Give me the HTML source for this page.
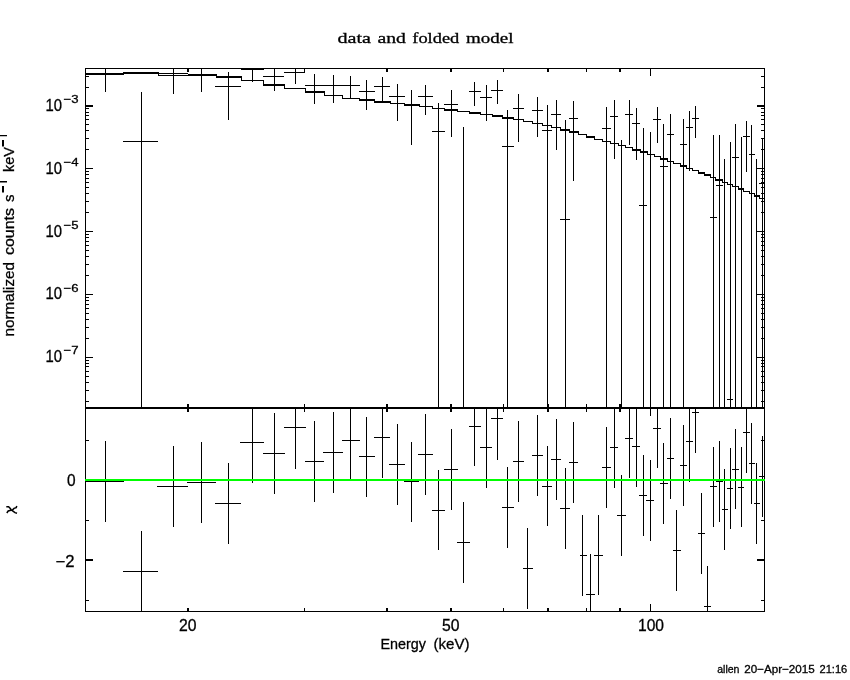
<!DOCTYPE html>
<html><head><meta charset="utf-8"><style>html,body{margin:0;padding:0;background:#fff;}svg{display:block;}text{font-family:"Liberation Sans",sans-serif;fill:#000;stroke:#000;stroke-width:0.3px;}</style></head><body>
<svg width="850" height="680" viewBox="0 0 850 680" shape-rendering="crispEdges">
<rect x="0" y="0" width="850" height="680" fill="#fff"/>
<path fill="#000" d="M85 68h680v1h-680zM85 407h680v2h-680zM85 611h680v1h-680zM85 68h1v544h-1zM764 68h1v544h-1zM86 401h3v1h-3zM761 401h3v1h-3zM86 390h3v1h-3zM761 390h3v1h-3zM86 382h3v1h-3zM761 382h3v1h-3zM86 376h3v1h-3zM761 376h3v1h-3zM86 371h3v1h-3zM761 371h3v1h-3zM86 366h3v1h-3zM761 366h3v1h-3zM86 363h3v1h-3zM761 363h3v1h-3zM86 360h3v1h-3zM761 360h3v1h-3zM86 357h7v1h-7zM757 357h7v1h-7zM86 338h3v1h-3zM761 338h3v1h-3zM86 327h3v1h-3zM761 327h3v1h-3zM86 319h3v1h-3zM761 319h3v1h-3zM86 313h3v1h-3zM761 313h3v1h-3zM86 308h3v1h-3zM761 308h3v1h-3zM86 304h3v1h-3zM761 304h3v1h-3zM86 300h3v1h-3zM761 300h3v1h-3zM86 297h3v1h-3zM761 297h3v1h-3zM86 294h7v1h-7zM757 294h7v1h-7zM86 275h3v1h-3zM761 275h3v1h-3zM86 264h3v1h-3zM761 264h3v1h-3zM86 256h3v1h-3zM761 256h3v1h-3zM86 250h3v1h-3zM761 250h3v1h-3zM86 245h3v1h-3zM761 245h3v1h-3zM86 241h3v1h-3zM761 241h3v1h-3zM86 237h3v1h-3zM761 237h3v1h-3zM86 234h3v1h-3zM761 234h3v1h-3zM86 231h7v1h-7zM757 231h7v1h-7zM86 212h3v1h-3zM761 212h3v1h-3zM86 201h3v1h-3zM761 201h3v1h-3zM86 193h3v1h-3zM761 193h3v1h-3zM86 187h3v1h-3zM761 187h3v1h-3zM86 182h3v1h-3zM761 182h3v1h-3zM86 178h3v1h-3zM761 178h3v1h-3zM86 174h3v1h-3zM761 174h3v1h-3zM86 171h3v1h-3zM761 171h3v1h-3zM86 168h7v1h-7zM757 168h7v1h-7zM86 149h3v1h-3zM761 149h3v1h-3zM86 138h3v1h-3zM761 138h3v1h-3zM86 130h3v1h-3zM761 130h3v1h-3zM86 124h3v1h-3zM761 124h3v1h-3zM86 119h3v1h-3zM761 119h3v1h-3zM86 115h3v1h-3zM761 115h3v1h-3zM86 112h3v1h-3zM761 112h3v1h-3zM86 108h3v1h-3zM761 108h3v1h-3zM86 105h7v2h-7zM757 105h7v2h-7zM86 87h3v1h-3zM761 87h3v1h-3zM86 76h3v1h-3zM761 76h3v1h-3zM86 440h3v1h-3zM761 440h3v1h-3zM86 479h7v2h-7zM757 479h7v2h-7zM86 520h3v1h-3zM761 520h3v1h-3zM86 559h7v2h-7zM757 559h7v2h-7zM86 600h3v1h-3zM761 600h3v1h-3zM187 69h2v3h-2zM187 404h2v3h-2zM187 409h2v3h-2zM187 608h2v3h-2zM304 69h1v3h-1zM304 404h1v3h-1zM304 409h1v3h-1zM304 608h1v3h-1zM386 69h2v3h-2zM386 404h2v3h-2zM386 409h2v3h-2zM386 608h2v3h-2zM450 69h2v3h-2zM450 404h2v3h-2zM450 409h2v3h-2zM450 608h2v3h-2zM503 69h1v3h-1zM503 404h1v3h-1zM503 409h1v3h-1zM503 608h1v3h-1zM547 69h2v3h-2zM547 404h2v3h-2zM547 409h2v3h-2zM547 608h2v3h-2zM586 69h1v3h-1zM586 404h1v3h-1zM586 409h1v3h-1zM586 608h1v3h-1zM619 69h2v3h-2zM619 404h2v3h-2zM619 409h2v3h-2zM619 608h2v3h-2zM650 69h1v7h-1zM650 400h1v7h-1zM650 409h1v7h-1zM650 604h1v7h-1zM85 73h39v2h-39zM124 72h34v2h-34zM123 72h1v3h-1zM158 75h30v1h-30zM158 72h1v4h-1zM188 74h28v2h-28zM188 74h1v2h-1zM216 76h25v2h-25zM216 74h1v4h-1zM241 80h23v1h-23zM241 76h1v5h-1zM264 84h20v2h-20zM263 80h1v6h-1zM284 88h21v1h-21zM284 84h1v5h-1zM305 91h19v2h-19zM305 88h1v5h-1zM324 95h18v1h-18zM324 91h1v5h-1zM342 98h17v1h-17zM342 95h1v4h-1zM359 99h15v2h-15zM359 98h1v3h-1zM374 101h16v2h-16zM374 99h1v4h-1zM390 103h14v1h-14zM390 101h1v3h-1zM404 104h15v2h-15zM404 103h1v3h-1zM419 106h13v1h-13zM419 104h1v3h-1zM432 108h12v1h-12zM432 106h1v3h-1zM444 109h14v2h-14zM444 108h1v3h-1zM458 111h11v1h-11zM457 109h1v3h-1zM469 112h11v2h-11zM469 111h1v3h-1zM480 114h12v1h-12zM480 112h1v3h-1zM492 115h10v2h-10zM492 114h1v3h-1zM502 117h11v2h-11zM502 115h1v4h-1zM513 119h10v1h-10zM513 117h1v3h-1zM523 121h9v1h-9zM523 119h1v3h-1zM532 123h10v1h-10zM532 121h1v3h-1zM542 125h10v1h-10zM542 123h1v3h-1zM552 127h8v1h-8zM551 125h1v3h-1zM560 129h10v2h-10zM560 127h1v4h-1zM570 131h8v2h-8zM569 129h1v4h-1zM578 134h8v1h-8zM578 131h1v4h-1zM586 136h8v2h-8zM586 134h1v4h-1zM594 139h8v1h-8zM594 136h1v4h-1zM602 141h8v1h-8zM602 139h1v3h-1zM610 143h8v1h-8zM610 141h1v3h-1zM618 145h8v1h-8zM618 143h1v3h-1zM626 147h6v1h-6zM625 145h1v3h-1zM632 149h8v2h-8zM632 147h1v4h-1zM640 151h7v2h-7zM640 149h1v4h-1zM647 154h7v1h-7zM647 151h1v4h-1zM654 156h6v1h-6zM654 154h1v3h-1zM660 158h7v2h-7zM660 156h1v4h-1zM667 161h6v1h-6zM667 158h1v4h-1zM673 163h7v1h-7zM673 161h1v3h-1zM680 165h6v2h-6zM680 163h1v4h-1zM686 168h6v1h-6zM686 165h1v4h-1zM692 170h6v1h-6zM692 168h1v3h-1zM698 172h6v2h-6zM698 170h1v4h-1zM704 174h6v2h-6zM704 172h1v4h-1zM710 177h6v1h-6zM710 174h1v4h-1zM716 179h6v2h-6zM715 177h1v4h-1zM722 182h6v1h-6zM722 179h1v4h-1zM728 184h4v1h-4zM727 182h1v3h-1zM732 186h6v1h-6zM732 184h1v3h-1zM738 188h5v2h-5zM738 186h1v4h-1zM743 191h6v1h-6zM743 188h1v4h-1zM749 193h5v1h-5zM749 191h1v3h-1zM754 195h6v2h-6zM754 193h1v4h-1zM760 198h5v1h-5zM759 195h1v4h-1zM105 69h1v23h-1zM85 74h39v1h-39zM141 92h1v315h-1zM123 141h35v1h-35zM173 69h1v25h-1zM158 73h30v1h-30zM201 69h1v23h-1zM188 74h28v1h-28zM228 72h1v48h-1zM215 86h26v1h-26zM252 69h1v13h-1zM241 69h23v1h-23zM274 69h1v22h-1zM263 76h21v1h-21zM295 69h1v15h-1zM284 72h21v1h-21zM314 74h1v30h-1zM305 85h19v1h-19zM333 75h1v28h-1zM324 85h18v1h-18zM350 76h1v23h-1zM342 85h18v1h-18zM366 80h1v30h-1zM359 91h16v1h-16zM382 77h1v25h-1zM374 86h16v1h-16zM397 84h1v37h-1zM389 96h16v1h-16zM411 90h1v55h-1zM404 105h15v1h-15zM425 85h1v30h-1zM418 96h15v1h-15zM438 103h1v304h-1zM432 131h13v1h-13zM451 90h1v47h-1zM444 104h14v1h-14zM463 127h1v280h-1zM474 82h1v24h-1zM469 91h12v1h-12zM486 85h1v36h-1zM480 97h12v1h-12zM497 80h1v24h-1zM491 90h12v1h-12zM507 110h1v297h-1zM502 146h12v1h-12zM518 94h1v48h-1zM513 108h11v1h-11zM537 97h1v40h-1zM532 110h11v1h-11zM547 105h1v302h-1zM542 130h10v1h-10zM556 100h1v50h-1zM551 114h10v1h-10zM565 120h1v287h-1zM560 219h10v1h-10zM573 101h1v80h-1zM569 118h9v1h-9zM606 107h1v300h-1zM602 128h9v1h-9zM614 100h1v59h-1zM610 116h8v1h-8zM621 140h1v267h-1zM629 100h1v45h-1zM625 114h8v1h-8zM636 108h1v52h-1zM632 123h8v1h-8zM643 128h1v279h-1zM639 205h8v1h-8zM650 132h1v275h-1zM657 107h1v36h-1zM653 119h8v1h-8zM663 124h1v283h-1zM660 166h8v1h-8zM670 114h1v293h-1zM667 134h7v1h-7zM683 119h1v288h-1zM680 144h7v1h-7zM689 111h1v60h-1zM686 127h7v1h-7zM695 106h1v32h-1zM692 118h7v1h-7zM713 135h1v272h-1zM710 217h7v1h-7zM719 135h1v272h-1zM716 185h7v1h-7zM724 159h1v248h-1zM730 142h1v265h-1zM727 399h6v1h-6zM735 124h1v283h-1zM732 157h7v1h-7zM741 137h1v270h-1zM746 121h1v51h-1zM743 136h7v1h-7zM751 125h1v282h-1zM749 154h6v1h-6zM756 159h1v248h-1zM762 139h1v268h-1zM759 183h5v1h-5z"/>
<path fill="#000" d="M105 441h1v81h-1zM85 481h39v1h-39zM141 531h1v80h-1zM123 571h35v1h-35zM173 446h1v81h-1zM157 486h31v1h-31zM201 442h1v81h-1zM187 482h29v1h-29zM228 463h1v81h-1zM215 503h26v1h-26zM252 409h1v74h-1zM240 442h24v1h-24zM274 413h1v81h-1zM263 453h22v1h-22zM295 409h1v60h-1zM284 427h22v1h-22zM314 421h1v81h-1zM305 461h19v1h-19zM333 412h1v81h-1zM323 452h20v1h-20zM350 409h1v71h-1zM342 440h18v1h-18zM366 417h1v80h-1zM359 456h16v1h-16zM382 409h1v69h-1zM374 437h16v1h-16zM397 424h1v81h-1zM389 464h16v1h-16zM411 442h1v80h-1zM404 481h15v1h-15zM425 414h1v81h-1zM418 454h15v1h-15zM438 470h1v80h-1zM432 510h13v1h-13zM451 429h1v81h-1zM444 469h14v1h-14zM463 502h1v81h-1zM457 542h13v1h-13zM474 409h1v57h-1zM469 426h12v1h-12zM486 409h1v79h-1zM480 447h12v1h-12zM497 409h1v51h-1zM491 418h12v1h-12zM507 467h1v81h-1zM502 507h12v1h-12zM518 421h1v81h-1zM513 461h11v1h-11zM527 528h1v81h-1zM523 568h10v1h-10zM537 415h1v81h-1zM532 455h11v1h-11zM547 446h1v80h-1zM542 486h10v1h-10zM556 419h1v81h-1zM551 459h10v1h-10zM565 468h1v81h-1zM560 508h10v1h-10zM573 422h1v81h-1zM569 462h9v1h-9zM582 515h1v81h-1zM580 555h7v1h-7zM590 554h1v57h-1zM586 594h9v1h-9zM598 515h1v80h-1zM594 555h9v1h-9zM606 427h1v81h-1zM602 467h9v1h-9zM614 409h1v79h-1zM610 447h8v1h-8zM621 475h1v81h-1zM617 515h9v1h-9zM629 409h1v69h-1zM625 438h8v1h-8zM636 409h1v78h-1zM632 446h8v1h-8zM643 455h1v81h-1zM639 495h8v1h-8zM650 460h1v81h-1zM646 500h8v1h-8zM657 409h1v59h-1zM653 428h8v1h-8zM663 443h1v81h-1zM660 483h8v1h-8zM670 418h1v81h-1zM667 458h7v1h-7zM676 510h1v81h-1zM673 550h8v1h-8zM683 425h1v81h-1zM680 465h7v1h-7zM689 409h1v73h-1zM686 441h7v1h-7zM695 409h1v44h-1zM692 412h7v1h-7zM701 493h1v81h-1zM698 533h7v1h-7zM707 566h1v45h-1zM704 606h7v1h-7zM713 447h1v80h-1zM710 486h7v1h-7zM719 441h1v81h-1zM716 481h7v1h-7zM724 469h1v81h-1zM722 509h6v1h-6zM730 448h1v81h-1zM727 488h6v1h-6zM735 429h1v80h-1zM732 469h7v1h-7zM741 447h1v80h-1zM738 487h6v1h-6zM746 409h1v64h-1zM743 432h7v1h-7zM751 423h1v81h-1zM749 463h6v1h-6zM756 463h1v81h-1zM754 503h6v1h-6zM762 436h1v81h-1zM759 476h5v1h-5z"/>
<rect x="85" y="479" width="680" height="2" fill="#00ff00"/>
<g shape-rendering="auto" style="filter:grayscale(1)">
<text x="337.5" y="43" style="font-family:&quot;Liberation Serif&quot;,serif;font-size:15.5px;stroke:#000;stroke-width:0.3" textLength="33.5" lengthAdjust="spacingAndGlyphs">data</text>
<text x="377.5" y="43" style="font-family:&quot;Liberation Serif&quot;,serif;font-size:15.5px;stroke:#000;stroke-width:0.3" textLength="28.5" lengthAdjust="spacingAndGlyphs">and</text>
<text x="412.3" y="43" style="font-family:&quot;Liberation Serif&quot;,serif;font-size:15.5px;stroke:#000;stroke-width:0.3" textLength="47" lengthAdjust="spacingAndGlyphs">folded</text>
<text x="466" y="43" style="font-family:&quot;Liberation Serif&quot;,serif;font-size:15.5px;stroke:#000;stroke-width:0.3" textLength="47.5" lengthAdjust="spacingAndGlyphs">model</text>
<text x="45.5" y="110.9" style="font-size:16.2px" textLength="16.5" lengthAdjust="spacingAndGlyphs">10</text>
<text x="63.5" y="103.1" style="font-size:11.5px" textLength="15" lengthAdjust="spacingAndGlyphs">−3</text>
<text x="45.5" y="173.7" style="font-size:16.2px" textLength="16.5" lengthAdjust="spacingAndGlyphs">10</text>
<text x="63.5" y="165.9" style="font-size:11.5px" textLength="15" lengthAdjust="spacingAndGlyphs">−4</text>
<text x="45.5" y="236.5" style="font-size:16.2px" textLength="16.5" lengthAdjust="spacingAndGlyphs">10</text>
<text x="63.5" y="228.7" style="font-size:11.5px" textLength="15" lengthAdjust="spacingAndGlyphs">−5</text>
<text x="45.5" y="299.3" style="font-size:16.2px" textLength="16.5" lengthAdjust="spacingAndGlyphs">10</text>
<text x="63.5" y="291.5" style="font-size:11.5px" textLength="15" lengthAdjust="spacingAndGlyphs">−6</text>
<text x="45.5" y="362.1" style="font-size:16.2px" textLength="16.5" lengthAdjust="spacingAndGlyphs">10</text>
<text x="63.5" y="354.3" style="font-size:11.5px" textLength="15" lengthAdjust="spacingAndGlyphs">−7</text>
<text x="66.9" y="485.7" style="font-size:16.2px" textLength="8.6" lengthAdjust="spacingAndGlyphs">0</text>
<text x="55.5" y="566.5" style="font-size:16.2px" textLength="19" lengthAdjust="spacingAndGlyphs">−2</text>
<text x="179" y="631" style="font-size:16.2px" textLength="17.5" lengthAdjust="spacingAndGlyphs">20</text>
<text x="442" y="631" style="font-size:16.2px" textLength="17.5" lengthAdjust="spacingAndGlyphs">50</text>
<text x="638" y="631" style="font-size:16.2px" textLength="26" lengthAdjust="spacingAndGlyphs">100</text>
<text x="380.5" y="649" style="font-size:15px" textLength="45.5" lengthAdjust="spacingAndGlyphs">Energy</text>
<text x="433.5" y="649" style="font-size:15px" textLength="36" lengthAdjust="spacingAndGlyphs">(keV)</text>
<path d="M6.3 506.8 L8.6 506.8 L10.3 508.6 L11.3 510 L13.3 511.3 L15 512.6 L17 513.3 M6.8 513 L8.2 511 L10.8 510.2 L12.4 510 L14 508.4 L16.2 507.6 L16.8 506" fill="none" stroke="#000" stroke-width="1.5"/>
<text transform="translate(14.3,336.5) rotate(-90)" style="font-size:15px" textLength="74.5" lengthAdjust="spacingAndGlyphs">normalized</text>
<text transform="translate(14.3,255) rotate(-90)" style="font-size:15px" textLength="47" lengthAdjust="spacingAndGlyphs">counts</text>
<text transform="translate(14.3,202) rotate(-90)" style="font-size:15px" textLength="7.5" lengthAdjust="spacingAndGlyphs">s</text>
<text transform="translate(14.3,172) rotate(-90)" style="font-size:15px" textLength="25" lengthAdjust="spacingAndGlyphs">keV</text>
<path d="M0 135h7v1.2h-7z M2 140h2v6.6h-2z M0 181h7v1.4h-7z M2 186h2v6.6h-2z" fill="#000"/>
<text x="717.2" y="673" style="font-size:11px" textLength="22.3" lengthAdjust="spacingAndGlyphs">allen</text>
<text x="744.2" y="673" style="font-size:11px" textLength="70.5" lengthAdjust="spacingAndGlyphs">20−Apr−2015</text>
<text x="819.5" y="673" style="font-size:11px" textLength="27.8" lengthAdjust="spacingAndGlyphs">21:16</text>
</g>
</svg></body></html>
